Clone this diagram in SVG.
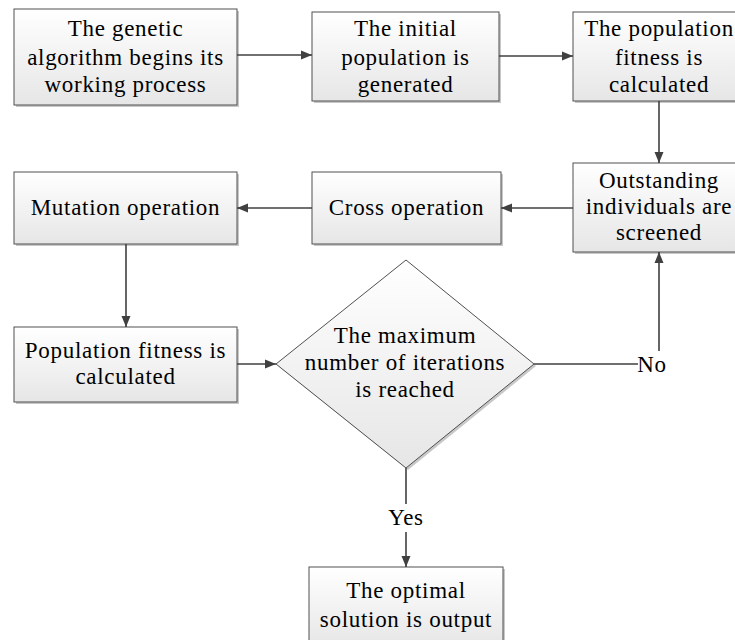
<svg xmlns="http://www.w3.org/2000/svg" width="735" height="640" viewBox="0 0 735 640">
<defs>
<linearGradient id="g" x1="0" y1="0" x2="0" y2="1">
<stop offset="0" stop-color="#ffffff"/>
<stop offset="1" stop-color="#e6e6e6"/>
</linearGradient>
<marker id="ah" markerUnits="userSpaceOnUse" markerWidth="12" markerHeight="10" refX="11" refY="5" orient="auto">
<path d="M0,0.5 L11,5 L0,9.5 Z" fill="#404040"/>
</marker>
<style>
.box{fill:url(#g);stroke:#505050;stroke-width:1}
.sh{fill:#c8c8c8}
text{font-family:"Liberation Serif","Times New Roman",serif;font-size:23px;fill:#000;text-anchor:middle;letter-spacing:0.7px}
.c{fill:none;stroke:#404040;stroke-width:1.6}
.lbl{fill:#fff}
</style>
</defs>
<rect width="735" height="640" fill="#fff"/>
<g id="n1">
<rect class="sh" x="16" y="11" width="223" height="96"/>
<rect class="box" x="14" y="9" width="223" height="96"/>
<text x="125.5" y="36">The genetic</text>
<text x="125.5" y="65">algorithm begins its</text>
<text x="125.5" y="92">working process</text>
</g>
<g id="n2">
<rect class="sh" x="314" y="14" width="187" height="89"/>
<rect class="box" x="312" y="12" width="187" height="89"/>
<text x="405.5" y="36">The initial</text>
<text x="405.5" y="65">population is</text>
<text x="405.5" y="92">generated</text>
</g>
<g id="n3">
<rect class="sh" x="575" y="14" width="172" height="89"/>
<rect class="box" x="573" y="12" width="172" height="89"/>
<text x="659" y="36">The population</text>
<text x="659" y="65">fitness is</text>
<text x="659" y="92">calculated</text>
</g>
<g id="n4">
<rect class="sh" x="575" y="165" width="172" height="89"/>
<rect class="box" x="573" y="163" width="172" height="89"/>
<text x="659" y="188">Outstanding</text>
<text x="659" y="214">individuals are</text>
<text x="659" y="240">screened</text>
</g>
<g id="n5">
<rect class="sh" x="314" y="174" width="189" height="72"/>
<rect class="box" x="312" y="172" width="189" height="72"/>
<text x="406.5" y="215">Cross operation</text>
</g>
<g id="n6">
<rect class="sh" x="16" y="174" width="223" height="72"/>
<rect class="box" x="14" y="172" width="223" height="72"/>
<text x="125.5" y="215">Mutation operation</text>
</g>
<g id="n7">
<rect class="sh" x="16" y="329" width="223" height="75"/>
<rect class="box" x="14" y="327" width="223" height="75"/>
<text x="125.5" y="358">Population fitness is</text>
<text x="125.5" y="384">calculated</text>
</g>
<g id="n8">
<path class="sh" d="M408,262 L536,366 L408,470 L278,366 Z"/>
<path class="box" d="M406,260 L534,364 L406,468 L276,364 Z"/>
<text x="405" y="343">The maximum</text>
<text x="405" y="370">number of iterations</text>
<text x="405" y="397">is reached</text>
</g>
<g id="n9">
<rect class="sh" x="311" y="569" width="194" height="80"/>
<rect class="box" x="309" y="567" width="194" height="80"/>
<text x="406" y="598">The optimal</text>
<text x="406" y="627">solution is output</text>
</g>
<g id="connectors">
<path class="c" d="M237,55 H312" marker-end="url(#ah)"/>
<path class="c" d="M499,56 H573" marker-end="url(#ah)"/>
<path class="c" d="M659,101 V163" marker-end="url(#ah)"/>
<path class="c" d="M573,208 H501" marker-end="url(#ah)"/>
<path class="c" d="M312,208 H237" marker-end="url(#ah)"/>
<path class="c" d="M126,244 V327" marker-end="url(#ah)"/>
<path class="c" d="M237,364 H276" marker-end="url(#ah)"/>
<path class="c" d="M534,364 H659 V252" marker-end="url(#ah)"/>
<path class="c" d="M406,468 V567" marker-end="url(#ah)"/>
<rect class="lbl" x="638" y="351" width="28" height="24"/>
<text x="652" y="372">No</text>
<rect class="lbl" x="388" y="504" width="36" height="28"/>
<text x="406" y="525">Yes</text>
</g>
</svg>
